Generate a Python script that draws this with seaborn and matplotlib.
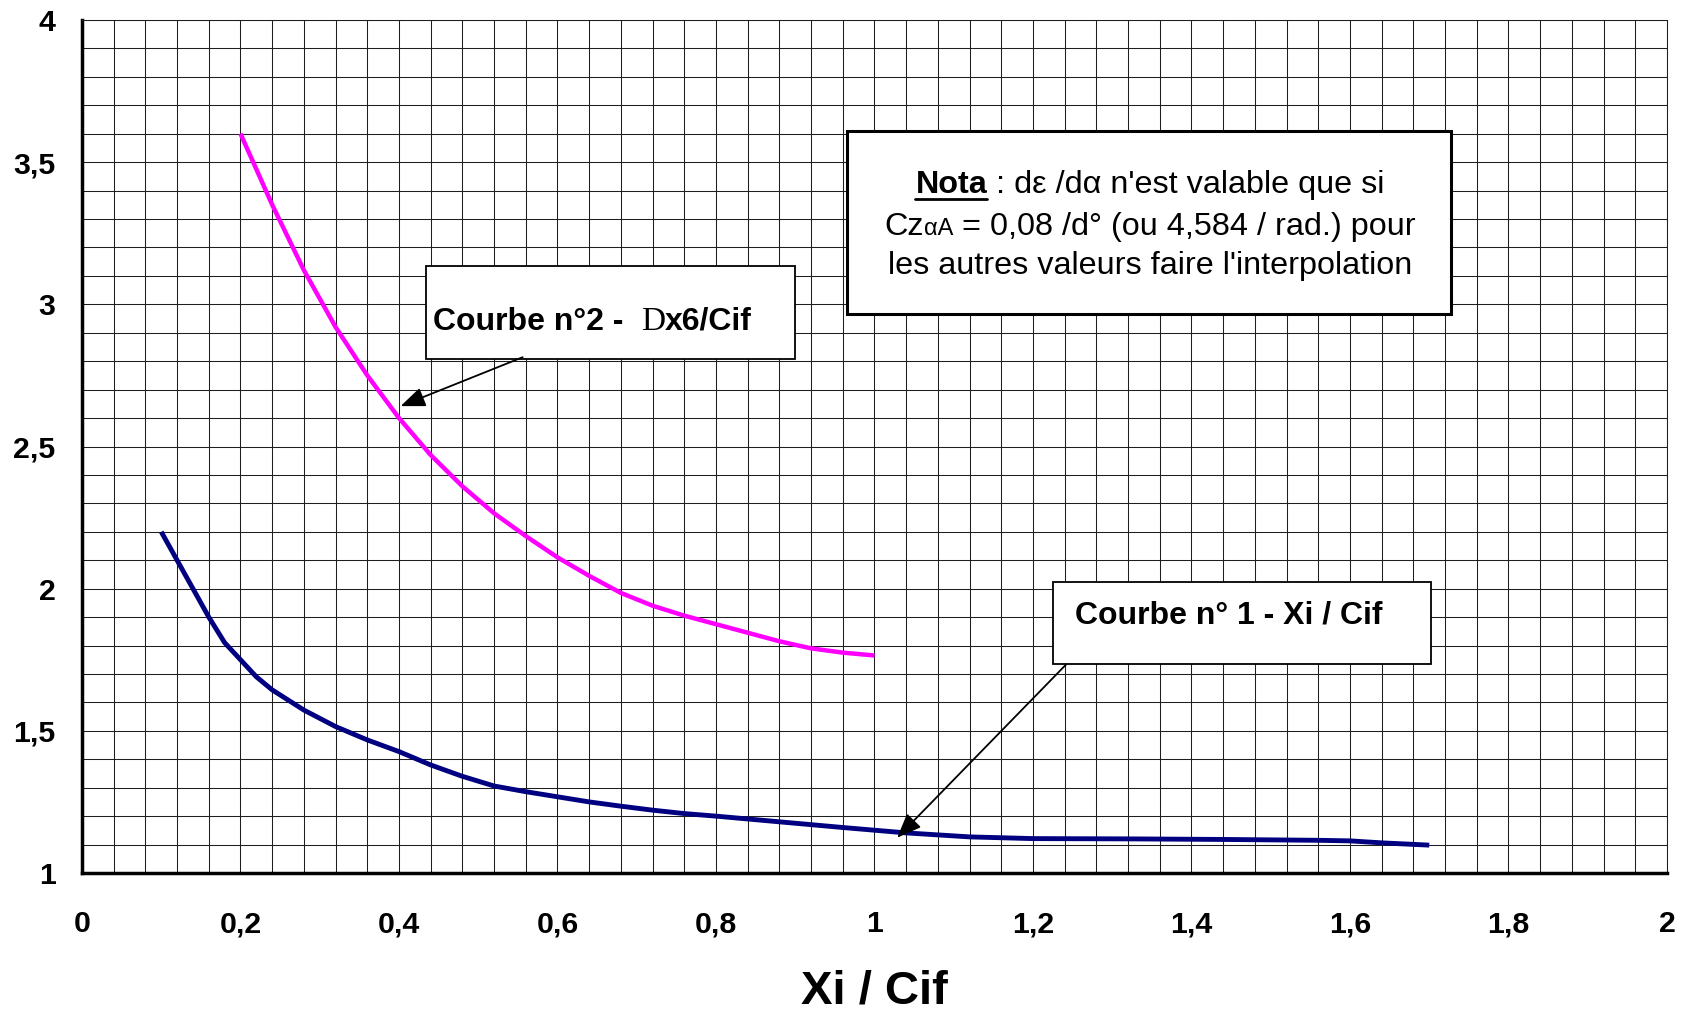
import matplotlib
matplotlib.use("Agg")
import matplotlib.pyplot as plt
import seaborn as sns
import pandas as pd
from matplotlib.patches import Rectangle
from matplotlib.lines import Line2D
from matplotlib.transforms import IdentityTransform
from matplotlib.ticker import MultipleLocator, FixedLocator

# ---------------- data ----------------
curve1_x = [0.10, 0.12, 0.14, 0.16, 0.18, 0.20, 0.22, 0.24, 0.28, 0.32, 0.36, 0.40,
            0.44, 0.48, 0.52, 0.56, 0.60, 0.64, 0.68, 0.72, 0.76, 0.80, 0.88, 0.96,
            1.04, 1.12, 1.20, 1.32, 1.44, 1.56, 1.60, 1.64, 1.70]
curve1_y = [2.20, 2.10, 2.00, 1.90, 1.81, 1.75, 1.69, 1.644, 1.573, 1.515, 1.468, 1.427,
            1.380, 1.340, 1.306, 1.286, 1.268, 1.250, 1.235, 1.221, 1.209, 1.200, 1.180, 1.160,
            1.141, 1.127, 1.121, 1.120, 1.118, 1.115, 1.113, 1.106, 1.098]

curve2_x = [0.20, 0.24, 0.28, 0.32, 0.36, 0.40, 0.44, 0.48, 0.52, 0.56, 0.60,
            0.64, 0.68, 0.72, 0.76, 0.80, 0.84, 0.88, 0.92, 0.96, 1.00]
curve2_y = [3.60, 3.35, 3.12, 2.92, 2.75, 2.60, 2.47, 2.36, 2.265, 2.185, 2.11,
            2.045, 1.985, 1.94, 1.905, 1.875, 1.845, 1.815, 1.79, 1.775, 1.765]

x_ticks = [0, 0.2, 0.4, 0.6, 0.8, 1.0, 1.2, 1.4, 1.6, 1.8, 2.0]
x_tick_labels = ["0", "0,2", "0,4", "0,6", "0,8", "1", "1,2", "1,4", "1,6", "1,8", "2"]
y_ticks = [1, 1.5, 2, 2.5, 3, 3.5, 4]
y_tick_labels = ["1", "1,5", "2", "2,5", "3", "3,5", "4"]
x_label = "Xi / Cif"

label_curve1 = "Courbe n° 1 - Xi / Cif"
label_curve2_a = "Courbe n°2 -  "
label_curve2_b = "D"
label_curve2_c = "x6/Cif"
nota_line1 = [("Nota", "bold"), (" : dε /dα n'est valable que si", "normal")]
nota_line2 = [("Cz", 23.3), ("αA", 17), (" = 0,08 /d° (ou 4,584 / rad.) pour", 23.3)]
nota_line3 = "les autres valeurs faire l'interpolation"

# ---------------- style ----------------
sns.set_style("white")
plt.rcParams["font.family"] = ["Liberation Sans", "DejaVu Sans"]
plt.rcParams["text.color"] = "black"
plt.rcParams["axes.labelcolor"] = "black"
plt.rcParams["xtick.color"] = "black"
plt.rcParams["ytick.color"] = "black"

W, H = 1683, 1015
fig = plt.figure(figsize=(W / 100, H / 100), dpi=100)
ax = fig.add_axes([82 / W, 1 - 873 / H, 1585 / W, 853 / H])

df1 = pd.DataFrame({"x": curve1_x, "y": curve1_y})
df2 = pd.DataFrame({"x": curve2_x, "y": curve2_y})
sns.lineplot(data=df1, x="x", y="y", color="#000080", lw=3.5, ax=ax,
             sort=False, estimator=None, zorder=3)
sns.lineplot(data=df2, x="x", y="y", color="#FF00FF", lw=3.2, ax=ax,
             sort=False, estimator=None, zorder=3)
for ln in ax.get_lines():
    ln.set_solid_joinstyle("round")
    ln.set_solid_capstyle("butt")

ax.set_xlim(0, 2)
ax.set_ylim(1, 4)
ax.xaxis.set_major_locator(FixedLocator(x_ticks))
ax.set_xticklabels(x_tick_labels)
ax.yaxis.set_major_locator(FixedLocator(y_ticks))
ax.set_yticklabels(y_tick_labels)
ax.xaxis.set_minor_locator(MultipleLocator(0.04))
ax.yaxis.set_minor_locator(MultipleLocator(0.1))
ax.grid(which="both", color="#1e1e1e", lw=0.75)
ax.set_axisbelow(True)

ax.tick_params(which="major", direction="in", length=6, width=2.2, color="black",
               labelsize=21.8, labelcolor="black")
ax.tick_params(axis="x", which="major", pad=27)
ax.tick_params(axis="y", which="major", pad=19)
ax.tick_params(which="minor", length=0)
for lbl in ax.get_xticklabels() + ax.get_yticklabels():
    lbl.set_fontweight("bold")

for side in ["left", "bottom"]:
    ax.spines[side].set_linewidth(2.5)
    ax.spines[side].set_color("black")
for side in ["top", "right"]:
    ax.spines[side].set_linewidth(0.75)
    ax.spines[side].set_color("#1e1e1e")

ax.set_ylabel("")
ax.set_xlabel(x_label, fontsize=34, fontweight="bold", color="black")
ax.xaxis.set_label_coords(0.5, (873 - 1003) / 853)
ax.xaxis.label.set_va("baseline")

# ---------------- annotation boxes ----------------
def add_box(x0, x1, y0, y1, lw):
    ax.add_patch(Rectangle((x0, y0), x1 - x0, y1 - y0, transform=ax.transData,
                           facecolor="white", edgecolor="black", lw=lw, zorder=4))

add_box(0.434, 0.900, 2.809, 3.135, 1.3)   # curve 2 box
add_box(1.225, 1.702, 1.735, 2.023, 1.3)   # curve 1 box
add_box(0.965, 1.727, 2.966, 3.610, 2.2)   # nota box

arrow_kw = dict(arrowstyle="-|>,head_length=0.75,head_width=0.3", color="black",
                lw=1.3, shrinkA=0, shrinkB=0, mutation_scale=20)
ax.annotate("", xy=(0.402, 2.642), xytext=(0.556, 2.814), arrowprops=arrow_kw, zorder=5)
ax.annotate("", xy=(1.0286, 1.124), xytext=(1.242, 1.734), arrowprops=arrow_kw, zorder=5)

ax.text(1.253, 1.907, label_curve1, fontsize=23, fontweight="bold", color="black",
        ha="left", va="center", zorder=6)

# ---------------- multi-style text helpers ----------------
fig.canvas.draw()
R = fig.canvas.get_renderer()


def text_width(s, **kw):
    t = fig.text(0, 0, "|" + s + "|", **kw)
    w1 = t.get_window_extent(R).width
    t.remove()
    t = fig.text(0, 0, "||", **kw)
    w2 = t.get_window_extent(R).width
    t.remove()
    return w1 - w2


def draw_pieces(pieces, x_px, base_px, ha="center"):
    widths = [text_width(s, **kw) for s, kw in pieces]
    total = sum(widths)
    x = x_px - total / 2 if ha == "center" else x_px
    out = []
    for (s, kw), wd in zip(pieces, widths):
        stripped = s.lstrip(" ")
        lead = text_width(s[: len(s) - len(stripped)], **kw) if stripped != s else 0
        t = fig.text(x + lead, H - base_px, stripped, transform=IdentityTransform(),
                     ha="left", va="baseline", zorder=6, color="black", **kw)
        out.append((t, x + lead, text_width(stripped, **kw)))
        x += wd
    return out


# Curve 2 label (serif D)
draw_pieces([(label_curve2_a, dict(fontsize=23, fontweight="bold")),
             (label_curve2_b, dict(fontsize=24, family=["Liberation Serif", "DejaVu Serif"])),
             (label_curve2_c, dict(fontsize=23, fontweight="bold"))],
            433, 330, ha="left")

# Nota lines
cx = 1150
l1 = draw_pieces([(s, dict(fontsize=23.3, fontweight=wt)) for s, wt in nota_line1], cx, 193)
t_nota, nx, nw = l1[0]
fig.add_artist(Line2D([nx, nx + nw], [H - 198.5, H - 198.5], transform=IdentityTransform(),
                      color="black", lw=2.0, zorder=6))
draw_pieces([(s, dict(fontsize=fs)) for s, fs in nota_line2], cx, 235)
draw_pieces([(nota_line3, dict(fontsize=23.3))], cx, 274)

fig.savefig("out.png", dpi=100, facecolor="white")
